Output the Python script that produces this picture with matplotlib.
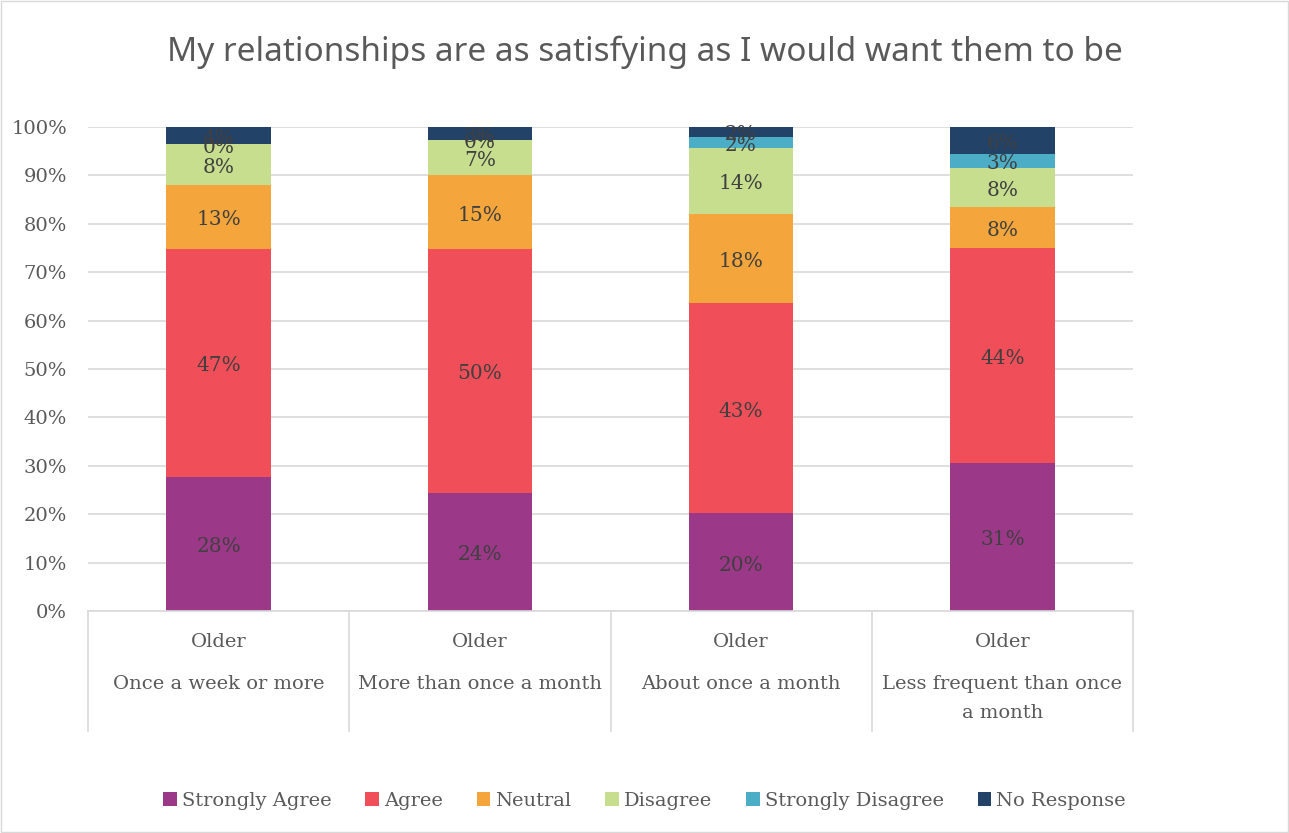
import numpy as np
import matplotlib.pyplot as plt
from matplotlib.patches import Rectangle
import matplotlib.transforms as mtransforms

# data (percent of respondents)
groups = ['Older', 'Older', 'Older', 'Older']
frequency = ['Once a week or more', 'More than once a month',
             'About once a month', 'Less frequent than once\na month']
responses = ['Strongly Agree', 'Agree', 'Neutral', 'Disagree',
             'Strongly Disagree', 'No Response']
strongly_agree = [27.7, 24.4, 20.2, 30.6]
agree = [47.1, 50.4, 43.4, 44.4]
neutral = [13.2, 15.2, 18.4, 8.4]
disagree = [8.4, 7.4, 13.7, 8.2]
strongly_disagree = [0.0, 0.0, 2.2, 2.8]
no_response = [3.6, 2.6, 2.1, 5.6]

colors = ['#9B3888', '#F04E59', '#F4A53B', '#C6DE8E', '#4BADC6', '#234268']
series = [strongly_agree, agree, neutral, disagree, strongly_disagree, no_response]

serif = ['DejaVu Serif']
txt = '#404040'
grey = '#595959'

fig = plt.figure(figsize=(12.89, 8.33), dpi=100)
fig.patches.append(Rectangle((0.001, 0.001), 0.998, 0.998, transform=fig.transFigure,
                             fill=False, edgecolor='#D9D9D9', linewidth=1))
ax = fig.add_axes([88/1289, (833-611)/833, (1133-88)/1289, 484/833])

x = np.arange(len(frequency))
bottom = np.zeros(len(x))
for name, vals, c in zip(responses, series, colors):
    vals = np.array(vals)
    ax.bar(x, vals, 0.4, bottom=bottom, color=c, label=name, zorder=2)
    for xi, b, v in zip(x, bottom, vals):
        ax.text(xi, b + v/2 - 0.6, '%d%%' % round(v), ha='center', va='center',
                fontsize=14.5, color=txt, family=serif, zorder=3)
    bottom += vals

ax.set_xlim(-0.5, 3.5)
ax.set_ylim(0, 100)
ax.set_yticks(np.arange(0, 101, 10))
ax.set_yticklabels(['%d%%' % v for v in range(0, 101, 10)], family=serif,
                   fontsize=14, color=grey)
ax.tick_params(axis='y', length=0, pad=15)
ax.set_xticks([])
ax.grid(axis='y', color='#D9D9D9', linewidth=1.2, zorder=0)
for s in ['top', 'right', 'left']:
    ax.spines[s].set_visible(False)
ax.spines['bottom'].set_color('#D9D9D9')
ax.spines['bottom'].set_linewidth(1.2)

# two-level category axis
trans = mtransforms.blended_transform_factory(ax.transData, ax.transAxes)
for xi, g, f in zip(x, groups, frequency):
    ax.text(xi, -31/484, g, transform=trans, ha='center', va='center',
            fontsize=14, color=grey, family=serif)
    ax.text(xi, -64/484, f, transform=trans, ha='center', va='top',
            fontsize=14, color=grey, family=serif, linespacing=1.75)
for xs in np.arange(-0.5, 3.6, 1.0):
    ax.plot([xs, xs], [0, -120/484], transform=trans, color='#D9D9D9',
            linewidth=1.2, clip_on=False)

fig.suptitle('My relationships are as satisfying as I would want them to be',
             y=1 - 52/833, va='center', fontsize=24, color=grey,
             family=['Noto Sans', 'DejaVu Sans'])

fig.legend(loc='center', bbox_to_anchor=(0.5, 1 - 801/833), ncol=6,
           frameon=False, handlelength=0.7, handleheight=0.7,
           handletextpad=0.25, columnspacing=1.75,
           prop={'family': serif, 'size': 14}, labelcolor=grey)

fig.savefig('out.png', dpi=100)
